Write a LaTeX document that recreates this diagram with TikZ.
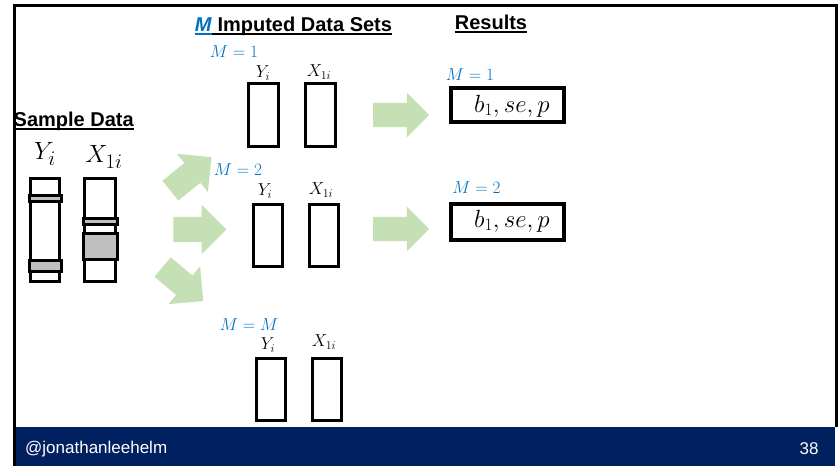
\documentclass[tikz,border=0pt]{standalone}
\usepackage{fontspec}
\setmainfont{Liberation Sans}
\usetikzlibrary{shapes.arrows}
\definecolor{ublue}{RGB}{0,112,192}
\definecolor{footnavy}{RGB}{0,32,96}
\definecolor{flowgreen}{RGB}{197,224,180}
\definecolor{bandgray}{RGB}{191,191,191}
% heavier underline for the headings
\newcommand\ulbar[1]{\setbox0\hbox{#1}\rlap{\rule[-4pt]{\wd0}{2pt}}\box0}

\begin{document}
\begin{tikzpicture}[x=1pt,y=-1pt,
  heading/.style={font=\fontsize{20}{24}\selectfont\bfseries, inner sep=0pt},
  column/.style={draw=black, line width=3pt, inner sep=0pt},
  band/.style={draw=black, fill=bandgray, line width=3pt},
  setlabel/.style={text=ublue, font=\fontsize{19}{21}\selectfont, inner sep=0pt},
  varlabel/.style={font=\fontsize{18.5}{21}\selectfont, inner sep=0pt},
  biglabel/.style={font=\fontsize{28}{30}\selectfont, inner sep=0pt},
  resultbox/.style={draw=black, line width=4pt, minimum width=113pt, inner sep=0pt},
  resulttext/.style={font=\fontsize{23}{25}\selectfont, inner sep=0pt},
  flow/.style={single arrow, fill=flowgreen, draw=none, inner xsep=0pt,
    single arrow tip angle=90},
  rightflow/.style={flow, minimum height=56pt, inner ysep=12pt, single arrow head extend=10pt},
  fanflow/.style={flow, minimum height=53pt, inner ysep=12.5pt, single arrow head extend=12pt},
  foot/.style={text=white, font=\fontsize{17}{20}\selectfont, inner sep=0pt}
]
\useasboundingbox (0,0) rectangle (839,466);

% footer band and frame
\fill[footnavy] (15,427) rectangle (835,466);
\draw[line width=3pt] (13,5) -- (837,5);
\draw[line width=3pt] (14,3.5) -- (14,466);
\draw[line width=3pt] (836,3.5) -- (836,427);
\node[foot, anchor=west] (handle) at (25,449) {@jonathanleehelm};
\node[foot] (page) at (809,449) {38};

% headings
\node[heading] (imphead) at (293.5,26)
  {\textcolor{ublue}{\ulbar{\textit{M}}}\ulbar{ Imputed Data Sets}};
\node[heading] (reshead) at (491,24) {\ulbar{Results}};
\node[heading, anchor=west] (samphead) at (13.5,121) {\ulbar{Sample Data}};

% sample data with missing rows
\node[biglabel] (sy) at (45,154) {$Y_i$};
\node[biglabel] (sx) at (104,157) {$X_{1i}$};
\node[column, minimum width=29pt, minimum height=103pt] (s0y) at (45,230) {};
\node[column, minimum width=31pt, minimum height=103pt] (s0x) at (100,230) {};
\draw[band] (s0y.west |- 0,195) rectangle (s0y.east |- 0,201.5);
\draw[band] (s0y.west |- 0,260) rectangle (s0y.east |- 0,271.5);
\draw[band] (s0x.west |- 0,218.5) rectangle (s0x.east |- 0,224.5);
\draw[band] (s0x.west |- 0,233.5) rectangle (s0x.east |- 0,259);

% fan-out arrows
\node[fanflow, rotate=39] (fanup) at (186,178) {};
\node[fanflow] (fanmid) at (193.5,229.5) {};
\node[fanflow, rotate=-40] (fandown) at (178,280) {};

% imputed set 1
\node[setlabel] (m1) at (234,52) {$M=1$};
\node[varlabel] (y1) at (263,73) {$Y_i$};
\node[varlabel] (x1) at (319,72) {$X_{1i}$};
\node[column, minimum width=30pt, minimum height=63pt] (c1y) at (263.5,115) {};
\node[column, minimum width=30pt, minimum height=63pt] (c1x) at (320.5,115) {};

% imputed set 2
\node[setlabel] (m2) at (238,170) {$M=2$};
\node[varlabel] (y2) at (265,191) {$Y_i$};
\node[varlabel] (x2) at (321,190) {$X_{1i}$};
\node[column, minimum width=29pt, minimum height=62pt] (c2y) at (268,235.5) {};
\node[column, minimum width=29pt, minimum height=62pt] (c2x) at (324,235.5) {};

% imputed set M
\node[setlabel] (mm) at (249,325) {$M=M$};
\node[varlabel] (y3) at (268,345) {$Y_i$};
\node[varlabel] (x3) at (324,342) {$X_{1i}$};
\node[column, minimum width=29pt, minimum height=62pt] (c3y) at (271,389.5) {};
\node[column, minimum width=29pt, minimum height=62pt] (c3x) at (327,389.5) {};

% analysis arrows
\node[rightflow] (go1) at (395,115) {};
\node[rightflow] (go2) at (395,229) {};

% results
\node[setlabel] (rm1) at (470,75) {$M=1$};
\node[resultbox, minimum height=34pt] (r1) at (507.5,105) {};
\node[resulttext] (r1t) at (512,106) {$b_1, se, p$};
\node[setlabel] (rm2) at (476.5,188) {$M=2$};
\node[resultbox, minimum height=36pt] (r2) at (507.5,222) {};
\node[resulttext] (r2t) at (512,221) {$b_1, se, p$};
\end{tikzpicture}
\end{document}
